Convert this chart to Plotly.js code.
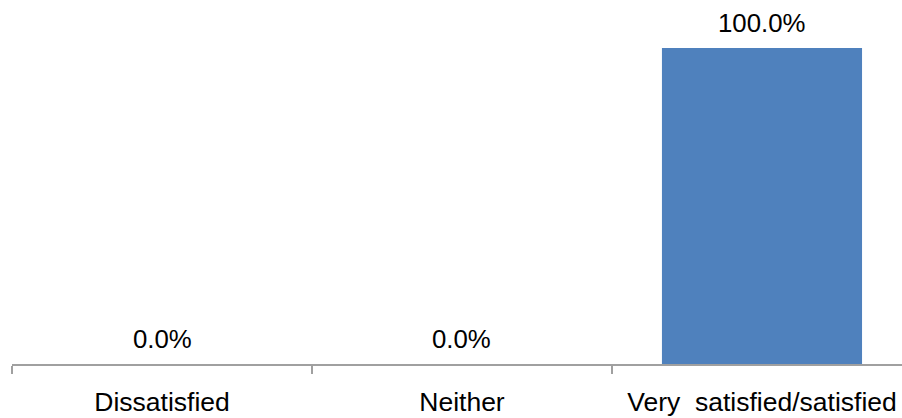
<!DOCTYPE html>
<html>
<head>
<meta charset="utf-8">
<script src="https://cdn.plot.ly/plotly-3.0.1.min.js"></script>
<style>html,body{margin:0;padding:0;background:#fff;}#chart{width:902px;height:418px;}</style>
</head>
<body>
<div id="chart"></div>
<script>
const categories = ["Dissatisfied", "Neither", "Very  satisfied/satisfied"];
const values = [0.0, 0.0, 100.0];
const valueLabels = values.map(v => v.toFixed(1) + "%");

const FONT = "Liberation Sans, Arial, sans-serif";

const trace = {
  type: "bar",
  x: categories,
  y: values,
  marker: {color: "#4f81bd"},
  width: 0.667,
  hoverinfo: "skip"
};

const annotations = categories.map((c, i) => ({
  x: c, y: values[i], xref: "x", yref: "y",
  text: valueLabels[i], showarrow: false,
  xanchor: "center", yanchor: "bottom", yshift: 9,
  font: {family: FONT, size: 25.8, color: "#000"}
}));

const layout = {
  width: 902, height: 418,
  margin: {l: 12, r: 0, t: 48, b: 54},
  paper_bgcolor: "#fff", plot_bgcolor: "#fff",
  showlegend: false,
  xaxis: {
    type: "category",
    range: [-0.5, 2.4667],
    tickson: "boundaries",
    ticks: "outside", ticklen: 8, tickwidth: 1.5, tickcolor: "#a0a0a0",
    showline: true, linecolor: "#a0a0a0", linewidth: 2,
    showgrid: false, zeroline: false,
    tickfont: {family: FONT, size: 26.5, color: "#000"},
    ticklabelstandoff: 13
  },
  yaxis: {
    range: [0, 100], visible: false, showgrid: false, zeroline: false
  },
  annotations: annotations
};

Plotly.newPlot("chart", [trace], layout, {displayModeBar: false, staticPlot: true});
</script>
</body>
</html>
